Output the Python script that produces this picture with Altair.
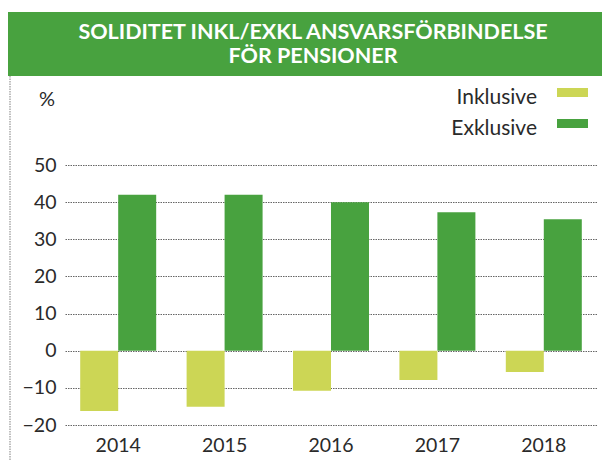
import altair as alt
import pandas as pd

years = ["2014", "2015", "2016", "2017", "2018"]
inklusive = [-16.2, -15.1, -10.8, -7.9, -5.7]
exklusive = [42.0, 42.0, 40.0, 37.3, 35.4]
series = ["Inklusive", "Exklusive"]
colors = ["#CCD655", "#48A23F"]
y_ticks = [50, 40, 30, 20, 10, 0, -10, -20]
title_lines = ["SOLIDITET INKL/EXKL ANSVARSFÖRBINDELSE", "FÖR PENSIONER"]

rows = []
for i, yr in enumerate(years):
    rows.append({"year": yr, "series": "Inklusive", "value": inklusive[i]})
    rows.append({"year": yr, "series": "Exklusive", "value": exklusive[i]})
df = pd.DataFrame(rows)

FONT = "Lato"
W, H = 532, 260

color_scale = alt.Scale(domain=series, range=colors)

bars = alt.Chart(df).mark_bar(size=38).encode(
    x=alt.X("year:N", sort=years, title=None,
            scale=alt.Scale(paddingInner=0.286, paddingOuter=0.143),
            axis=alt.Axis(labelAngle=0, labelFontSize=19.5, labelColor="#2a2a2a",
                          labelFont=FONT, domain=False, ticks=False, labelPadding=11)),
    xOffset=alt.XOffset("series:N", sort=series, scale=alt.Scale(paddingInner=0, paddingOuter=0)),
    y=alt.Y("value:Q", title=None,
            scale=alt.Scale(domain=[-20, 50], nice=False, zero=False),
            axis=alt.Axis(values=y_ticks, labelFontSize=19.5, labelColor="#2a2a2a",
                          labelFont=FONT, domain=False, ticks=False, labelPadding=9,
                          grid=True, gridColor="#666666", gridDash=[1.5, 1],
                          gridWidth=1.2)),
    color=alt.Color("series:N", scale=color_scale, legend=None),
)

banner_df = pd.DataFrame({"line": title_lines, "dy": [-132, -108]})
banner = alt.Chart(pd.DataFrame({"a": [0]})).mark_rect(color="#48A23F").encode(
    x=alt.value(-57), x2=alt.value(548), y=alt.value(-153), y2=alt.value(-89)
)
title_text = alt.Chart(banner_df).mark_text(
    color="white", fontSize=21.5, fontWeight="bold", font=FONT, align="center", baseline="middle"
).encode(
    text="line:N", x=alt.value(248), y=alt.Y("dy:Q", scale=None)
)
border = alt.Chart(pd.DataFrame({"a": [0]})).mark_rule(
    color="#aaaaaa", strokeDash=[1.5, 1], strokeWidth=1.5
).encode(x=alt.value(-55), y=alt.value(-89), y2=alt.value(310))

pct = alt.Chart(pd.DataFrame({"t": ["%"]})).mark_text(
    fontSize=20, font=FONT, color="#2a2a2a"
).encode(text="t:N", x=alt.value(-18), y=alt.value(-65))

leg_df = pd.DataFrame({"series": series, "ly": [-67, -36]})
leg_rect = alt.Chart(leg_df).mark_rect().encode(
    x=alt.value(492), x2=alt.value(523),
    y=alt.Y("ly:Q", scale=None),
    y2=alt.Y2("ly2:Q"),
    color=alt.Color("series:N", scale=color_scale, legend=None),
).transform_calculate(ly=alt.datum.ly - 10, ly2=alt.datum.ly + 9)
leg_text = alt.Chart(leg_df).mark_text(
    fontSize=21, font=FONT, color="#2a2a2a", align="right", baseline="middle"
).encode(text="series:N", x=alt.value(472), y=alt.Y("ly:Q", scale=None))

chart = alt.layer(banner, border, bars, title_text, pct, leg_rect, leg_text).properties(
    width=W, height=H,
    padding={"left": 57, "top": 157, "right": 5, "bottom": 36},
    autosize=alt.AutoSizeParams(type="none"),
).configure_view(stroke=None).resolve_scale(y="independent")

chart.save("out.html", embed_options={"renderer": "svg", "actions": False})
